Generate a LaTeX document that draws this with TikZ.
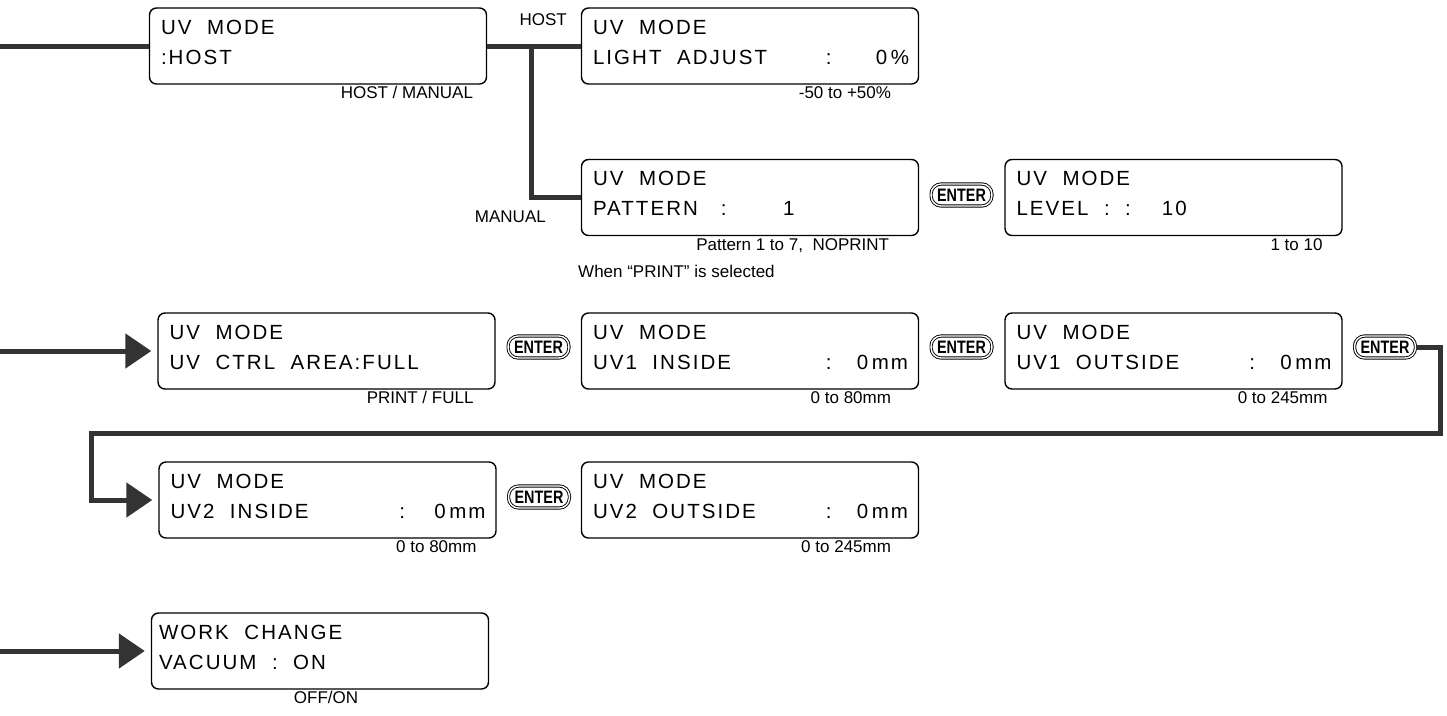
\documentclass[tikz,border=0pt]{standalone}
\usepackage{fontspec}
\setmainfont{Liberation Sans}
\newfontfamily\lcdfont[LetterSpace=10]{Liberation Sans}
\newfontfamily\entfont[FakeStretch=0.8]{Liberation Sans}
\usetikzlibrary{arrows.meta,calc}
\definecolor{wirecol}{HTML}{333333}
\begin{document}
\begin{tikzpicture}[x=1pt,y=-1pt,
 lcdbox/.style={draw=black, line width=1.4pt, rounded corners=7pt, minimum width=337pt, minimum height=76pt, inner sep=0pt},
 lcd/.style={font=\lcdfont\fontsize{20.5}{24}\selectfont, anchor=base west, inner sep=0pt},
 lcdr/.style={lcd, anchor=base east},
 lcdc/.style={lcd, anchor=base},
 lbl/.style={font=\fontsize{17}{20}\selectfont, inner sep=0pt, anchor=base east},
 enter/.style={draw=black, line width=0.9pt, double=white, double distance=1.4pt, rounded corners=10pt, inner xsep=6pt, inner ysep=0pt, minimum height=22pt, font=\entfont\bfseries\fontsize{18}{20}\selectfont},
 wire/.style={line width=5pt, draw=wirecol},
 arr/.style={wire, -{Triangle[length=26pt,width=34pt]}, shorten >=6pt},
]
\useasboundingbox (0,0) rectangle (1447,715);

% boxes
\node[lcdbox] (b1) at (318,46) {};
\node[lcdbox] (b2) at (750,46) {};
\node[lcdbox] (b3) at (750,197.5) {};
\node[lcdbox] (b4) at (1173.5,197.5) {};
\node[lcdbox] (b5) at (326.5,351) {};
\node[lcdbox] (b6) at (750,351) {};
\node[lcdbox] (b7) at (1173.5,351) {};
\node[lcdbox] (b8) at (327.5,500) {};
\node[lcdbox] (b9) at (750,500) {};
\node[lcdbox] (b10) at (320,651) {};

% box texts
\node[lcd] (t1a) at ($(b1.north west)+(12,27)$) {UV~~MODE};
\node[lcd] (t1b) at ($(b1.north west)+(12,57)$) {:HOST};

\node[lcd] (t2a) at ($(b2.north west)+(12,27)$) {UV~~MODE};
\node[lcd] (t2b) at ($(b2.north west)+(12,57)$) {LIGHT~~ADJUST};
\node[lcdc] (t2c) at ($(b2.north west)+(248,57)$) {:};
\node[lcdr] (t2d) at ($(b2.north east)+(-10,57)$) {0\,\%};

\node[lcd] (t3a) at ($(b3.north west)+(12,27)$) {UV~~MODE};
\node[lcd] (t3b) at ($(b3.north west)+(12,57)$) {PATTERN};
\node[lcdc] (t3c) at ($(b3.north west)+(143,57)$) {:};
\node[lcdc] (t3d) at ($(b3.north west)+(208,57)$) {1};

\node[lcd] (t4a) at ($(b4.north west)+(12,27)$) {UV~~MODE};
\node[lcd] (t4b) at ($(b4.north west)+(12,57)$) {LEVEL~~:~~:~~~~10};

\node[lcd] (t5a) at ($(b5.north west)+(12,27)$) {UV~~MODE};
\node[lcd] (t5b) at ($(b5.north west)+(12,57)$) {UV~~CTRL~~AREA:FULL};

\node[lcd] (t6a) at ($(b6.north west)+(12,27)$) {UV~~MODE};
\node[lcd] (t6b) at ($(b6.north west)+(12,57)$) {UV1~~INSIDE};
\node[lcdc] (t6c) at ($(b6.north west)+(248,57)$) {:};
\node[lcdr] (t6d) at ($(b6.north east)+(-11,57)$) {0\,mm};

\node[lcd] (t7a) at ($(b7.north west)+(12,27)$) {UV~~MODE};
\node[lcd] (t7b) at ($(b7.north west)+(12,57)$) {UV1~~OUTSIDE};
\node[lcdc] (t7c) at ($(b7.north west)+(248,57)$) {:};
\node[lcdr] (t7d) at ($(b7.north east)+(-11,57)$) {0\,mm};

\node[lcd] (t8a) at ($(b8.north west)+(12,27)$) {UV~~MODE};
\node[lcd] (t8b) at ($(b8.north west)+(12,57)$) {UV2~~INSIDE};
\node[lcdc] (t8c) at ($(b8.north west)+(244,57)$) {:};
\node[lcdr] (t8d) at ($(b8.north east)+(-11,57)$) {0\,mm};

\node[lcd] (t9a) at ($(b9.north west)+(12,27)$) {UV~~MODE};
\node[lcd] (t9b) at ($(b9.north west)+(12,57)$) {UV2~~OUTSIDE};
\node[lcdc] (t9c) at ($(b9.north west)+(248,57)$) {:};
\node[lcdr] (t9d) at ($(b9.north east)+(-11,57)$) {0\,mm};

\node[lcd] (t10a) at ($(b10.north west)+(8,27)$) {WORK~~CHANGE};
\node[lcd] (t10b) at ($(b10.north west)+(8,57)$) {VACUUM~~:~~ON};

% labels
\node[lbl] (l1) at ($(b1.south east)+(-14,14)$) {HOST / MANUAL};
\node[lbl] (l2) at ($(b2.south east)+(-28,14)$) {-50 to +50\%};
\node[lbl] (l3) at ($(b3.south east)+(-30,14)$) {Pattern 1 to 7,\ \ NOPRINT};
\node[lbl] (l4) at ($(b4.south east)+(-20,14)$) {1 to 10};
\node[lbl] (l5) at ($(b5.south east)+(-22,14)$) {PRINT / FULL};
\node[lbl] (l6) at ($(b6.south east)+(-28,14)$) {0 to 80mm};
\node[lbl] (l7) at ($(b7.south east)+(-15,14)$) {0 to 245mm};
\node[lbl] (l8) at ($(b8.south east)+(-20,14)$) {0 to 80mm};
\node[lbl] (l9) at ($(b9.south east)+(-28,14)$) {0 to 245mm};
\node[lbl, anchor=base] (l10) at (326,703) {OFF/ON};
\node[lbl] (lhost) at (567,25) {HOST};
\node[lbl] (lman) at (546,222) {MANUAL};
\node[lbl, anchor=base west] (lwhen) at (578,277) {When “PRINT” is selected};

% enter keys
\node[enter] (e3) at (961.5,195) {ENTER};
\node[enter] (e5) at (538.5,347) {ENTER};
\node[enter] (e6) at (961.5,347) {ENTER};
\node[enter] (e7) at (1385,347) {ENTER};
\node[enter] (e8) at (539,497) {ENTER};

% connectors
\coordinate (s1) at (0,46);
\coordinate (j1) at (531,46);
\coordinate (s2) at (0,351);
\coordinate (t1) at (1440,433);
\coordinate (t2) at (91,433);
\coordinate (s3) at (0,651);

\draw[wire] (s1) -- (b1.west);
\draw[wire] (b1.east) -- (b2.west);
\draw[wire] (j1) |- (b3.west);
\draw[arr] (s2) -- (b5.west);
\draw[wire] (e7.east) -| (t1) -- (t2) |- ($(b8.west)+(-30,0)$);
\draw[arr] ($(b8.west)+(-32.5,0)$) -- (b8.west);
\draw[arr] (s3) -- (b10.west);
\end{tikzpicture}
\end{document}
